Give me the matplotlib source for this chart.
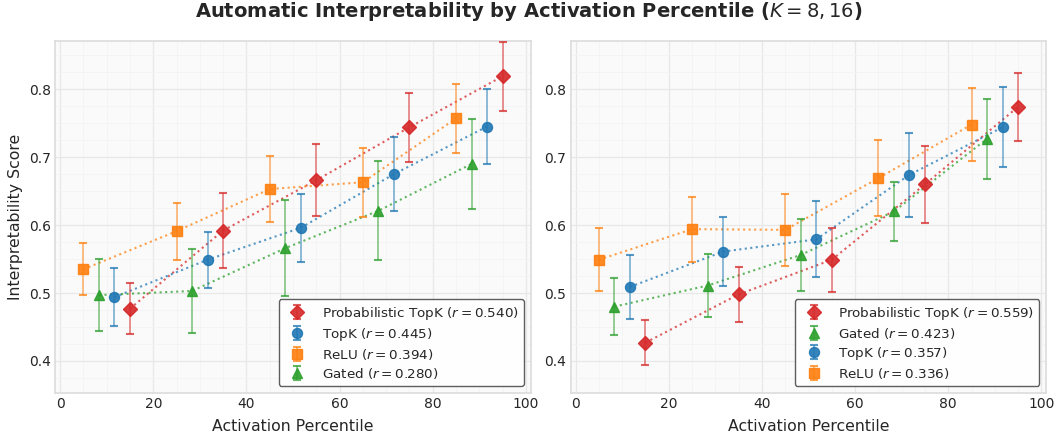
import matplotlib
matplotlib.use("Agg")
import matplotlib.pyplot as plt
from matplotlib.ticker import AutoMinorLocator
import numpy as np

# bin centres and per-method offsets
bins = [10, 30, 50, 70, 90]
offsets = {"ReLU": -5.0, "Gated": -1.67, "TopK": 1.67, "Probabilistic TopK": 5.0}

colors = {
    "Probabilistic TopK": "#d62728",
    "TopK": "#1f77b4",
    "ReLU": "#ff7f0e",
    "Gated": "#2ca02c",
}
markers = {"Probabilistic TopK": "D", "TopK": "o", "ReLU": "s", "Gated": "^"}

# K = 8 (left panel)
left_mean = {
    "Probabilistic TopK": [0.477, 0.592, 0.666, 0.744, 0.819],
    "TopK": [0.494, 0.549, 0.596, 0.675, 0.745],
    "ReLU": [0.535, 0.591, 0.653, 0.663, 0.757],
    "Gated": [0.497, 0.503, 0.566, 0.621, 0.690],
}
left_err = {
    "Probabilistic TopK": [0.038, 0.055, 0.053, 0.051, 0.051],
    "TopK": [0.043, 0.041, 0.050, 0.054, 0.055],
    "ReLU": [0.038, 0.042, 0.048, 0.051, 0.051],
    "Gated": [0.053, 0.062, 0.071, 0.073, 0.066],
}
left_r = {"Probabilistic TopK": 0.540, "TopK": 0.445, "ReLU": 0.394, "Gated": 0.280}

# K = 16 (right panel)
right_mean = {
    "Probabilistic TopK": [0.427, 0.498, 0.549, 0.660, 0.774],
    "TopK": [0.509, 0.561, 0.579, 0.674, 0.744],
    "ReLU": [0.549, 0.594, 0.593, 0.669, 0.748],
    "Gated": [0.480, 0.511, 0.556, 0.620, 0.727],
}
right_err = {
    "Probabilistic TopK": [0.033, 0.040, 0.047, 0.057, 0.050],
    "TopK": [0.047, 0.051, 0.056, 0.062, 0.059],
    "ReLU": [0.046, 0.048, 0.053, 0.056, 0.053],
    "Gated": [0.042, 0.047, 0.053, 0.044, 0.059],
}
right_r = {"Probabilistic TopK": 0.559, "Gated": 0.423, "TopK": 0.357, "ReLU": 0.336}

plt.rcParams["font.family"] = "DejaVu Sans"
plt.rcParams["text.color"] = "#262626"
plt.rcParams["axes.labelcolor"] = "#262626"
plt.rcParams["xtick.color"] = "#262626"
plt.rcParams["ytick.color"] = "#262626"


def plot_panel(ax, means, errs, rs):
    ax.set_facecolor("#fafafa")
    ax.xaxis.set_minor_locator(AutoMinorLocator(4))
    ax.yaxis.set_minor_locator(AutoMinorLocator(4))
    ax.grid(True, which="major", color="#e8e8e8", linewidth=0.9)
    ax.grid(True, which="minor", color="#f3f3f3", linewidth=0.6)
    ax.set_axisbelow(True)
    for sp in ax.spines.values():
        sp.set_color("#dcdcdc")
        sp.set_linewidth(1.2)
    ax.tick_params(which="both", length=0, labelsize=10, pad=3)

    # legend order follows r descending
    for name in sorted(rs, key=lambda k: -rs[k]):
        x = np.array(bins) + offsets[name]
        y = means[name]
        ax.plot(x, y, linestyle=":", color=colors[name], linewidth=1.5, alpha=0.75, zorder=2)
        eb = ax.errorbar(
            x, y, yerr=errs[name], fmt=markers[name], color=colors[name],
            markersize=7.2, capsize=3, elinewidth=1.4, capthick=1.5,
            alpha=0.9, label=f"{name} ($r={rs[name]:.3f}$)", zorder=3,
        )
        for part in eb[2]:
            part.set_alpha(0.5)
        for part in eb[1]:
            part.set_alpha(0.75)

    ax.set_xlim(-1.1, 101)
    ax.set_ylim(0.353, 0.871)
    ax.set_xticks([0, 20, 40, 60, 80, 100])
    ax.set_yticks([0.4, 0.5, 0.6, 0.7, 0.8])
    ax.set_xlabel("Activation Percentile", fontsize=11.3, labelpad=6)
    leg = ax.legend(loc="lower right", fontsize=9.7, frameon=True, fancybox=True,
                    labelspacing=0.3)
    leg.get_frame().set_edgecolor("#555555")
    leg.get_frame().set_linewidth(1.0)
    leg.get_frame().set_facecolor("white")
    leg.get_frame().set_alpha(0.95)


fig, axes = plt.subplots(1, 2, figsize=(10.58, 4.4), dpi=100)
fig.subplots_adjust(left=0.052, right=0.9887, top=0.907, bottom=0.107, wspace=0.084)

plot_panel(axes[0], left_mean, left_err, left_r)
plot_panel(axes[1], right_mean, right_err, right_r)
axes[0].set_ylabel("Interpretability Score", fontsize=11.3, labelpad=4)

fig.suptitle("Automatic Interpretability by Activation Percentile ($K=8,16$)",
             fontsize=14, fontweight="bold", y=1.0)

fig.savefig("out.png", dpi=100)
